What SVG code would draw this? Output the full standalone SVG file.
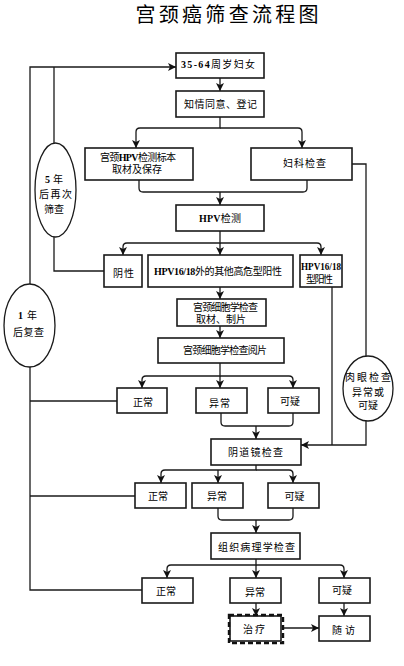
<svg xmlns="http://www.w3.org/2000/svg" width="404" height="666" viewBox="0 0 404 666">
<style>
.b{fill:#fff;stroke:#1a1a1a;stroke-width:1.6}
.e{fill:#fff;stroke:#1a1a1a;stroke-width:1.3}
.c{fill:none;stroke:#1a1a1a;stroke-width:1.3}
.a{marker-end:url(#arr)}
text{font-family:"Liberation Serif","Noto Sans CJK SC",serif;font-size:10px;fill:#000;text-anchor:middle;dominant-baseline:central}
.l{font-weight:bold}
.t{font-family:"Noto Sans CJK SC",sans-serif;font-size:20px;dominant-baseline:auto}
</style>
<defs>
<marker id="arr" markerUnits="userSpaceOnUse" markerWidth="9" markerHeight="9" refX="8" refY="4" orient="auto">
<path d="M0,0 L8,4 L0,8 L2,4 z" fill="#111"/>
</marker>
</defs>
<text class="t" x="227" y="22" textLength="183" lengthAdjust="spacing">宫颈癌筛查流程图</text>
<g id="connectors">
<path class="c a" d="M220,78 V91"/>
<path class="c a" d="M220,117 V128 H140 Q136,128 136,132 V148"/>
<path class="c a" d="M220,128 H298 Q302,128 302,132 V148"/>
<path class="c" d="M139,180 V188 Q139,192 143,192 H303 Q307,192 307,188 V180"/>
<path class="c a" d="M220,192 V205"/>
<path class="c a" d="M220,231 V243 H127 Q123,243 123,247 V255"/>
<path class="c a" d="M220,243 H317 Q321,243 321,247 V255"/>
<path class="c a" d="M220,243 V255"/>
<path class="c a" d="M220,287 V299"/>
<path class="c a" d="M220,326 V338"/>
<path class="c a" d="M220,363 V376 H146 Q142,376 142,380 V388"/>
<path class="c a" d="M220,376 H289 Q293,376 293,380 V388"/>
<path class="c a" d="M220,376 V388"/>
<path class="c" d="M221,413 V422 Q221,426 225,426 H289 Q293,426 293,422 V413"/>
<path class="c a" d="M256,426 V439"/>
<path class="c a" d="M256,465 V470 H165 Q161,470 161,474 V483"/>
<path class="c a" d="M256,470 H289 Q293,470 293,474 V483"/>
<path class="c a" d="M218,470 V483"/>
<path class="c" d="M218,508 V516 Q218,520 222,520 H289 Q293,520 293,516 V508"/>
<path class="c a" d="M256,520 V533"/>
<path class="c a" d="M256,559 V565 H171 Q167,565 167,569 V578"/>
<path class="c a" d="M256,565 H340 Q344,565 344,569 V578"/>
<path class="c a" d="M256,565 V578"/>
<path class="c a" d="M256,603 V616"/>
<path class="c a" d="M344,603 V616"/>
<path class="c a" d="M284,628 H319"/>
<path class="c" d="M142,590 H30 V367"/>
<path class="c a" d="M30,284 V67 H176"/>
<path class="c" d="M117,401 H30"/>
<path class="c" d="M135,496 H30"/>
<path class="c" d="M104,271 H54 V237"/>
<path class="c" d="M54,143 V67"/>
<path class="c" d="M352,164 H366 V356"/>
<path class="c a" d="M366,421 V445 H301"/>
<path class="c" d="M332,287 V445"/>
</g>
<g id="n_women"><rect class="b" x="176" y="53" width="88" height="25"/><text x="218" y="64" textLength="74" lengthAdjust="spacing"><tspan class="l">35-64</tspan>周岁妇女</text></g>
<g id="n_consent"><rect class="b" x="176" y="91" width="88" height="26"/><text x="220.5" y="104" textLength="73" lengthAdjust="spacing">知情同意、登记</text></g>
<g id="n_sample"><rect class="b" x="85" y="148" width="108" height="32"/><text x="138" y="157" textLength="76" lengthAdjust="spacing">宫颈<tspan class="l">HPV</tspan>检测标本</text><text x="137" y="169" textLength="50" lengthAdjust="spacing">取材及保存</text></g>
<g id="n_gyn"><rect class="b" x="251" y="148" width="101" height="32"/><text x="304.5" y="163" textLength="43" lengthAdjust="spacing">妇科检查</text></g>
<g id="n_hpv"><rect class="b" x="176" y="205" width="88" height="26"/><text x="220" y="218" textLength="42" lengthAdjust="spacing"><tspan class="l">HPV</tspan>检测</text></g>
<g id="n_neg"><rect class="b" x="104" y="255" width="38" height="32"/><text x="123.5" y="273" textLength="21" lengthAdjust="spacing">阴性</text></g>
<g id="n_other"><rect class="b" x="148" y="255" width="145" height="32"/><text x="218" y="271" textLength="128" lengthAdjust="spacing"><tspan class="l">HPV16/18</tspan>外的其他高危型阳性</text></g>
<g id="n_1618"><rect class="b" x="300" y="255" width="42" height="32"/><text class="l" x="321" y="266" textLength="40" lengthAdjust="spacingAndGlyphs">HPV16/18</text><text x="319.5" y="279" textLength="27" lengthAdjust="spacing">型阳性</text></g>
<g id="n_cyto"><rect class="b" x="177" y="299" width="89" height="27"/><text x="225.5" y="307" textLength="65" lengthAdjust="spacing">宫颈细胞学检查</text><text x="221" y="319" textLength="50" lengthAdjust="spacing">取材、制片</text></g>
<g id="n_read"><rect class="b" x="158" y="338" width="126" height="25"/><text x="225" y="350" textLength="84" lengthAdjust="spacing">宫颈细胞学检查阅片</text></g>
<g id="n_norm1"><rect class="b" x="117" y="388" width="50" height="25"/><text x="143" y="402" textLength="20" lengthAdjust="spacing">正常</text></g>
<g id="n_abn1"><rect class="b" x="196" y="388" width="51" height="25"/><text x="219.5" y="403" textLength="21" lengthAdjust="spacing">异常</text></g>
<g id="n_sus1"><rect class="b" x="268" y="388" width="51" height="25"/><text x="290" y="401" textLength="20" lengthAdjust="spacing">可疑</text></g>
<g id="n_colpo"><rect class="b" x="211" y="439" width="90" height="26"/><text x="255.5" y="452" textLength="55" lengthAdjust="spacing">阴道镜检查</text></g>
<g id="n_norm2"><rect class="b" x="135" y="483" width="51" height="25"/><text x="158" y="496" textLength="20" lengthAdjust="spacing">正常</text></g>
<g id="n_abn2"><rect class="b" x="192" y="483" width="51" height="25"/><text x="217" y="496" textLength="20" lengthAdjust="spacing">异常</text></g>
<g id="n_sus2"><rect class="b" x="268" y="483" width="51" height="25"/><text x="294.5" y="496" textLength="20" lengthAdjust="spacing">可疑</text></g>
<g id="n_path"><rect class="b" x="211" y="533" width="89" height="26"/><text x="256.5" y="547" textLength="77" lengthAdjust="spacing">组织病理学检查</text></g>
<g id="n_norm3"><rect class="b" x="142" y="578" width="51" height="25"/><text x="166" y="591" textLength="20" lengthAdjust="spacing">正常</text></g>
<g id="n_abn3"><rect class="b" x="230" y="578" width="51" height="25"/><text x="255" y="592" textLength="20" lengthAdjust="spacing">异常</text></g>
<g id="n_sus3"><rect class="b" x="319" y="578" width="51" height="25"/><text x="342" y="590" textLength="20" lengthAdjust="spacing">可疑</text></g>
<g id="n_treat"><rect class="b" x="230" y="616" width="51" height="25"/><rect x="229" y="615" width="54" height="28" fill="none" stroke="#111" stroke-width="2.4" stroke-dasharray="5,3"/><text x="254" y="629" textLength="22" lengthAdjust="spacing">治疗</text></g>
<g id="n_follow"><rect class="b" x="319" y="616" width="51" height="25"/><text x="343.5" y="630" textLength="23" lengthAdjust="spacing">随访</text></g>
<g id="n_5y"><ellipse class="e" cx="55.5" cy="190" rx="20.5" ry="47"/><text x="54" y="179" textLength="18" lengthAdjust="spacing"><tspan class="l">5</tspan>年</text><text x="55.5" y="194" textLength="33" lengthAdjust="spacing">后再次</text><text x="54" y="209" textLength="20" lengthAdjust="spacing">筛查</text></g>
<g id="n_1y"><ellipse class="e" cx="29.5" cy="325.5" rx="25.5" ry="41.5"/><text x="27.5" y="315" textLength="19" lengthAdjust="spacing"><tspan class="l">1</tspan>年</text><text x="28.5" y="332" textLength="31" lengthAdjust="spacing">后复查</text></g>
<g id="n_eye"><ellipse class="e" cx="368" cy="388.5" rx="25" ry="32.5"/><text x="368" y="377" textLength="46" lengthAdjust="spacing">肉眼检查</text><text x="368" y="392" textLength="32" lengthAdjust="spacing">异常或</text><text x="368" y="405" textLength="20" lengthAdjust="spacing">可疑</text></g>
</svg>
